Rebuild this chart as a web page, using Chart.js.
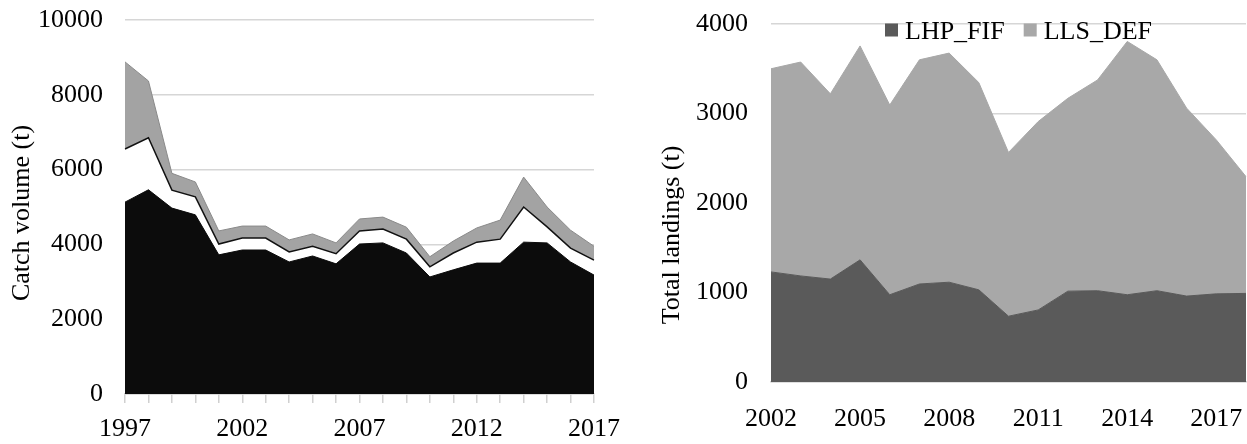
<!DOCTYPE html>
<html>
<head>
<meta charset="utf-8">
<script src="https://cdn.jsdelivr.net/npm/chart.js@4.4.1/dist/chart.umd.min.js"></script>
<style>
  html, body { margin: 0; padding: 0; background: #fff; }
  #wrap { position: relative; width: 1247px; height: 444px; overflow: hidden; }
  #catchChart { position: absolute; left: 0; top: 0; }
  #landingsChart { position: absolute; left: 620px; top: 0; }
</style>
</head>
<body>
<div id="wrap">
  <canvas id="catchChart" width="620" height="444"></canvas>
  <canvas id="landingsChart" width="627" height="444"></canvas>
</div>
<script>
// ---- Catch volume (t), stacked, 1997-2017 ----
const catchYears = ['1997','1998','1999','2000','2001','2002','2003','2004','2005','2006','2007',
                    '2008','2009','2010','2011','2012','2013','2014','2015','2016','2017'];
const catchLower  = [5130, 5460, 4970, 4790, 3720, 3850, 3850, 3530, 3690, 3480, 4010,
                     4040, 3770, 3130, 3320, 3500, 3500, 4060, 4040, 3530, 3180];
const catchMiddle = [1420, 1390, 480, 480, 290, 320, 320, 270, 260, 270, 350,
                     370, 370, 270, 450, 560, 640, 940, 430, 370, 400];
const catchUpper  = [2330, 1520, 450, 400, 350, 320, 320, 320, 330, 290, 320,
                     320, 320, 270, 320, 380, 510, 800, 530, 480, 370];
const catchTickYears = ['1997', '2002', '2007', '2012', '2017'];

// ---- Total landings (t), stacked, 2002-2018 ----
const landingYears = ['2002','2003','2004','2005','2006','2007','2008','2009','2010',
                      '2011','2012','2013','2014','2015','2016','2017','2018'];
const lhpFif = [1230, 1185, 1150, 1365, 975, 1095, 1115, 1030, 735,
                805, 1015, 1020, 975, 1020, 960, 985, 990];
const llsDef = [2270, 2390, 2070, 2390, 2120, 2505, 2560, 2315, 1830,
                2105, 2155, 2355, 2830, 2580, 2100, 1720, 1305];
const landingTickYears = ['2002', '2005', '2008', '2011', '2014', '2017'];

const SERIF = '"Liberation Serif", "Times New Roman", serif';
Chart.defaults.font.family = SERIF;
Chart.defaults.font.size = 26;
Chart.defaults.color = '#000';

// Rotated y-axis caption
const axisCaption = {
  id: 'axisCaption',
  afterDraw(chart, args, opts) {
    const ctx = chart.ctx;
    ctx.save();
    ctx.translate(opts.x, opts.y);
    ctx.rotate(-Math.PI / 2);
    ctx.font = '26px ' + SERIF;
    ctx.fillStyle = '#000';
    ctx.textAlign = 'center';
    ctx.textBaseline = 'middle';
    ctx.fillText(opts.text, 0, 0);
    ctx.restore();
  }
};

// Square-marker legend laid over the plot area
const boxLegend = {
  id: 'boxLegend',
  afterDatasetsDraw(chart, args, opts) {
    if (!opts || !opts.show) return;
    const ctx = chart.ctx;
    const area = chart.chartArea;
    let x = area.left + opts.offsetX;
    const top = area.top + opts.offsetY;
    ctx.save();
    ctx.font = '26px ' + SERIF;
    ctx.textBaseline = 'alphabetic';
    ctx.textAlign = 'left';
    chart.data.datasets.forEach(ds => {
      ctx.fillStyle = ds.backgroundColor;
      ctx.fillRect(x, top, 13, 13);
      x += 13 + 7;
      ctx.fillStyle = '#000';
      ctx.fillText(ds.label, x, top + 15);
      x += ctx.measureText(ds.label).width + 19;
    });
    ctx.restore();
  }
};

function areaSet(label, data, fill, bg, border, bw) {
  return {
    label, data, fill,
    backgroundColor: bg,
    borderColor: border,
    borderWidth: bw,
    pointRadius: 0,
    pointHoverRadius: 0,
    tension: 0
  };
}

// fixed axis thickness, no extra room for overhanging labels
const fixX = h => s => { s.height = h; s.paddingLeft = 0; s.paddingRight = 0; };
const fixY = w => s => { s.width = w; s.paddingTop = 0; s.paddingBottom = 0; };

new Chart(document.getElementById('catchChart'), {
  type: 'line',
  data: {
    labels: catchYears,
    datasets: [
      areaSet('catchLower', catchLower, 'origin', '#0c0c0c', '#0c0c0c', 1),
      areaSet('catchMiddle', catchMiddle, '-1', '#ffffff', '#111111', 1.5),
      areaSet('catchUpper', catchUpper, '-1', '#a3a3a3', '#8a8a8a', 1)
    ]
  },
  options: {
    responsive: false,
    animation: false,
    events: [],
    layout: { padding: { top: 20, right: 26, left: 0, bottom: 0 } },
    plugins: {
      legend: { display: false },
      tooltip: { enabled: false },
      axisCaption: { text: 'Catch volume (t)', x: 22, y: 213 },
      boxLegend: { show: false }
    },
    scales: {
      x: {
        stacked: true,
        offset: false,
        afterFit: fixX(50),
        grid: { display: true, drawOnChartArea: false, drawTicks: true, tickLength: 9,
                color: '#d0d0d0', lineWidth: 1.5 },
        border: { display: true, color: '#d0d0d0', width: 1.5 },
        ticks: {
          autoSkip: false, maxRotation: 0, padding: 11,
          callback: function (v) {
            const lab = this.getLabelForValue(v);
            return catchTickYears.includes(lab) ? lab : '';
          }
        }
      },
      y: {
        stacked: true,
        min: 0, max: 10000,
        afterFit: fixY(125),
        grid: { color: '#d6d6d6', lineWidth: 1.5, drawTicks: false },
        border: { display: false },
        ticks: { stepSize: 2000, padding: 22, callback: v => String(v) }
      }
    }
  },
  plugins: [axisCaption, boxLegend]
});

new Chart(document.getElementById('landingsChart'), {
  type: 'line',
  data: {
    labels: landingYears,
    datasets: [
      areaSet('LHP_FIF', lhpFif, 'origin', '#5a5a5a', '#5a5a5a', 1),
      areaSet('LLS_DEF', llsDef, '-1', '#a8a8a8', '#a8a8a8', 1)
    ]
  },
  options: {
    responsive: false,
    animation: false,
    events: [],
    layout: { padding: { top: 24, right: 1, left: 0, bottom: 0 } },
    plugins: {
      legend: { display: false },
      tooltip: { enabled: false },
      axisCaption: { text: 'Total landings (t)', x: 52, y: 235 },
      boxLegend: { show: true, offsetX: 114, offsetY: -0.5 }
    },
    scales: {
      x: {
        stacked: true,
        offset: false,
        afterFit: fixX(62),
        grid: { display: false },
        border: { display: true, color: '#d6d6d6', width: 1.5 },
        ticks: {
          autoSkip: false, maxRotation: 0, padding: 14,
          callback: function (v) {
            const lab = this.getLabelForValue(v);
            return landingTickYears.includes(lab) ? lab : '';
          }
        }
      },
      y: {
        stacked: true,
        min: 0, max: 4000,
        afterFit: fixY(151),
        grid: { color: '#d6d6d6', lineWidth: 1.5, drawTicks: false },
        border: { display: false },
        ticks: { stepSize: 1000, padding: 23, callback: v => String(v) }
      }
    }
  },
  plugins: [axisCaption, boxLegend]
});
</script>
</body>
</html>
